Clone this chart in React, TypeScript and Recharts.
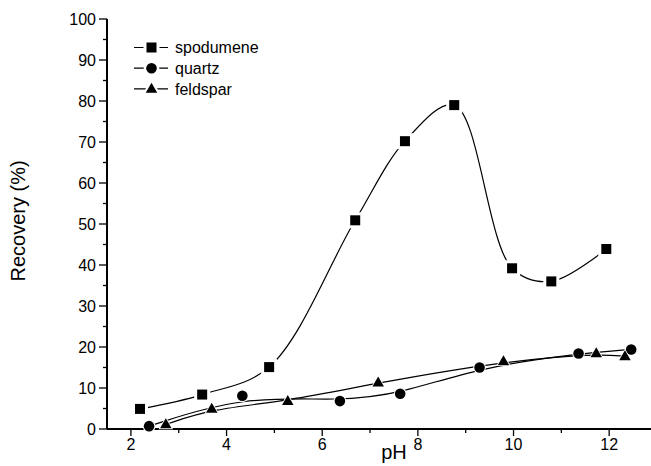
import React from 'react';
import { LineChart, Line, XAxis, YAxis } from 'recharts';

const spodPH = [2.19, 3.49, 4.89, 6.69, 7.73, 8.76, 9.97, 10.79, 11.94];
const spodRec = [4.9, 8.4, 15.1, 50.9, 70.2, 79.0, 39.2, 36.0, 43.9];
const quartzPH = [2.38, 4.33, 6.37, 7.63, 9.29, 11.36, 12.46];
const quartzRec = [0.7, 8.1, 6.8, 8.6, 15.0, 18.4, 19.4];
const feldPH = [2.73, 3.69, 5.28, 7.17, 9.79, 11.73, 12.33];
const feldRec = [1.1, 4.9, 6.8, 11.3, 16.5, 18.4, 17.7];

const seriesNames = ['spodumene', 'quartz', 'feldspar'];
const xTicks = [2, 3, 4, 5, 6, 7, 8, 9, 10, 11, 12, 13];
const xLabelTicks = [2, 4, 6, 8, 10, 12];
const yTicks = [0, 5, 10, 15, 20, 25, 30, 35, 40, 45, 50, 55, 60, 65, 70, 75, 80, 85, 90, 95, 100];
const yLabelTicks = [0, 10, 20, 30, 40, 50, 60, 70, 80, 90, 100];
const xTitle = 'pH';
const yTitle = 'Recovery (%)';

const FONT = '"Liberation Sans", Arial, Helvetica, sans-serif';

const toPoints = (xs: number[], ys: number[]) => xs.map((x, i) => ({ x, y: ys[i] }));
const spodData = toPoints(spodPH, spodRec);
const quartzData = toPoints(quartzPH, quartzRec);
const feldData = toPoints(feldPH, feldRec);

// Centripetal Catmull-Rom interpolating spline as a d3-style curve factory
const ALPHA = 0.5;
const catmullRom = (context: any) => {
  let pts: number[][] = [];
  const dist = (a: number[], b: number[]) => Math.hypot(b[0] - a[0], b[1] - a[1]);
  return {
    areaStart() {},
    areaEnd() {},
    lineStart() {
      pts = [];
    },
    point(x: number, y: number) {
      pts.push([+x, +y]);
    },
    lineEnd() {
      const n = pts.length;
      if (!n) return;
      context.moveTo(pts[0][0], pts[0][1]);
      for (let i = 0; i < n - 1; i++) {
        const p1 = pts[i];
        const p2 = pts[i + 1];
        const p0 = i > 0 ? pts[i - 1] : p1;
        const p3 = i + 2 < n ? pts[i + 2] : p2;
        const d01 = dist(p0, p1);
        const d12 = dist(p1, p2);
        const d23 = dist(p2, p3);
        const l01a = Math.pow(d01, ALPHA);
        const l01_2a = Math.pow(d01, 2 * ALPHA);
        const l12a = Math.pow(d12, ALPHA);
        const l12_2a = Math.pow(d12, 2 * ALPHA);
        const l23a = Math.pow(d23, ALPHA);
        const l23_2a = Math.pow(d23, 2 * ALPHA);
        let c1x = p1[0];
        let c1y = p1[1];
        let c2x = p2[0];
        let c2y = p2[1];
        if (l01a > 1e-9) {
          const a = 2 * l01_2a + 3 * l01a * l12a + l12_2a;
          const nn = 3 * l01a * (l01a + l12a);
          c1x = (p1[0] * a - p0[0] * l12_2a + p2[0] * l01_2a) / nn;
          c1y = (p1[1] * a - p0[1] * l12_2a + p2[1] * l01_2a) / nn;
        }
        if (l23a > 1e-9) {
          const b = 2 * l23_2a + 3 * l23a * l12a + l12_2a;
          const m = 3 * l23a * (l23a + l12a);
          c2x = (p2[0] * b + p1[0] * l23_2a - p3[0] * l12_2a) / m;
          c2y = (p2[1] * b + p1[1] * l23_2a - p3[1] * l12_2a) / m;
        }
        context.bezierCurveTo(c1x, c1y, c2x, c2y, p2[0], p2[1]);
      }
    },
  };
};

const SquareShape = ({ cx, cy, halo = 3 }: any) => {
  const s = 5;
  return (
    <g>
      <rect x={cx - s - halo} y={cy - s - halo} width={2 * (s + halo)} height={2 * (s + halo)} fill="#fff" />
      <rect x={cx - s} y={cy - s} width={2 * s} height={2 * s} fill="#000" />
    </g>
  );
};
const CircleShape = ({ cx, cy, halo = 1 }: any) => (
  <g>
    <circle cx={cx} cy={cy} r={5.3 + halo} fill="#fff" />
    <circle cx={cx} cy={cy} r={5.3} fill="#000" />
  </g>
);
const triPts = (cx: number, cy: number, w: number, h: number) =>
  `${cx},${cy - h * 0.62} ${cx - w / 2},${cy + h * 0.38} ${cx + w / 2},${cy + h * 0.38}`;
const TriangleShape = ({ cx, cy, halo = 1 }: any) => (
  <g>
    <polygon points={triPts(cx, cy, 11.5 + halo * 3, 10 + halo * 2.5)} fill="#fff" />
    <polygon points={triPts(cx, cy, 11.5, 10)} fill="#000" />
  </g>
);

const SquareDot = (p: any) => (p.cx == null ? <g key={p.key} /> : <g key={p.key}><SquareShape cx={p.cx} cy={p.cy} /></g>);
const CircleDot = (p: any) => (p.cx == null ? <g key={p.key} /> : <g key={p.key}><CircleShape cx={p.cx} cy={p.cy} /></g>);
const TriangleDot = (p: any) => (p.cx == null ? <g key={p.key} /> : <g key={p.key}><TriangleShape cx={p.cx} cy={p.cy} /></g>);

const XTickBottom = ({ x, y, payload }: any) => {
  const v = payload.value;
  const major = xLabelTicks.includes(v);
  return (
    <g>
      <line x1={x} x2={x} y1={y} y2={y + (major ? 7 : 4)} stroke="#000" strokeWidth={1.3} />
      {major && (
        <text x={x} y={y + 21} textAnchor="middle" fontSize={16} fontFamily={FONT} fill="#000">
          {v}
        </text>
      )}
    </g>
  );
};
const XTickTop = ({ x, y }: any) => (
  <line x1={x} x2={x} y1={y} y2={y + 3} stroke="#000" strokeWidth={1.2} />
);
const YTickLeft = ({ x, y, payload }: any) => {
  const v = payload.value;
  const major = yLabelTicks.includes(v);
  return (
    <g>
      <line x1={x} x2={x - (major ? 8 : 4)} y1={y} y2={y} stroke="#000" strokeWidth={1.3} />
      {major && (
        <text x={x - 11} y={y} dy="0.36em" textAnchor="end" fontSize={16} fontFamily={FONT} fill="#000">
          {v}
        </text>
      )}
    </g>
  );
};

const XTitle = ({ viewBox }: any) => (
  <text x={viewBox.x + 287} y={viewBox.y + 30} textAnchor="middle" fontSize={20} fontFamily={FONT} fill="#000">
    {xTitle}
  </text>
);
const YTitle = () => {
  const cx = 18;
  const cy = 221;
  return (
    <text x={cx} y={cy} transform={`rotate(-90 ${cx} ${cy})`} textAnchor="middle" dominantBaseline="central" fontSize={20} fontFamily={FONT} fill="#000">
      {yTitle}
    </text>
  );
};

const legendShapes = [SquareShape, CircleShape, TriangleShape];

export default function App() {
  return (
    <div style={{ position: 'fixed', left: 0, top: 0, width: 651, height: 466, overflow: 'hidden', background: '#fff' }}>
      <LineChart width={700} height={466} margin={{ top: 19, right: 43, left: 0, bottom: 0 }}>
        <XAxis
          xAxisId="b"
          dataKey="x"
          type="number"
          domain={[1.5, 13]}
          ticks={xTicks}
          allowDataOverflow
          height={37}
          axisLine={{ stroke: '#000', strokeWidth: 2 }}
          tickLine={false}
          tickSize={0}
          tickMargin={0}
          tick={<XTickBottom />}
          interval={0}
          label={<XTitle />}
        />
        <XAxis
          xAxisId="t"
          orientation="top"
          dataKey="x"
          type="number"
          domain={[1.5, 13]}
          ticks={xTicks}
          allowDataOverflow
          height={0}
          axisLine={{ stroke: '#000', strokeWidth: 2 }}
          tickLine={false}
          tickSize={0}
          tickMargin={0}
          tick={<XTickTop />}
          interval={0}
        />
        <YAxis
          yAxisId="l"
          type="number"
          domain={[0, 100]}
          ticks={yTicks}
          width={107}
          axisLine={{ stroke: '#000', strokeWidth: 2 }}
          tickLine={false}
          tickSize={0}
          tickMargin={0}
          tick={<YTickLeft />}
          interval={0}
          label={<YTitle />}
        />
        <Line
          xAxisId="b"
          yAxisId="l"
          data={spodData}
          dataKey="y"
          name={seriesNames[0]}
          type={catmullRom as any}
          stroke="#000"
          strokeWidth={1.2}
          dot={SquareDot}
          activeDot={false}
          isAnimationActive={false}
        />
        <Line
          xAxisId="b"
          yAxisId="l"
          data={quartzData}
          dataKey="y"
          name={seriesNames[1]}
          type="basis"
          stroke="#000"
          strokeWidth={1.2}
          dot={CircleDot}
          activeDot={false}
          isAnimationActive={false}
        />
        <Line
          xAxisId="b"
          yAxisId="l"
          data={feldData}
          dataKey="y"
          name={seriesNames[2]}
          type="basis"
          stroke="#000"
          strokeWidth={1.2}
          dot={TriangleDot}
          activeDot={false}
          isAnimationActive={false}
        />
      </LineChart>
      <svg width={651} height={466} style={{ position: 'absolute', left: 0, top: 0, pointerEvents: 'none' }}>
        {seriesNames.map((name, i) => {
          const cy = 47.5 + i * 20.7;
          const Shape = legendShapes[i];
          return (
            <g key={name}>
              <line x1={134} x2={168} y1={cy} y2={cy} stroke="#000" strokeWidth={1.2} />
              <Shape cx={151.5} cy={cy} halo={i === 0 ? 3 : 2.5} />
              <text x={175} y={cy} dy="0.36em" fontSize={16} fontFamily={FONT} fill="#000">
                {name}
              </text>
            </g>
          );
        })}
      </svg>
    </div>
  );
}
